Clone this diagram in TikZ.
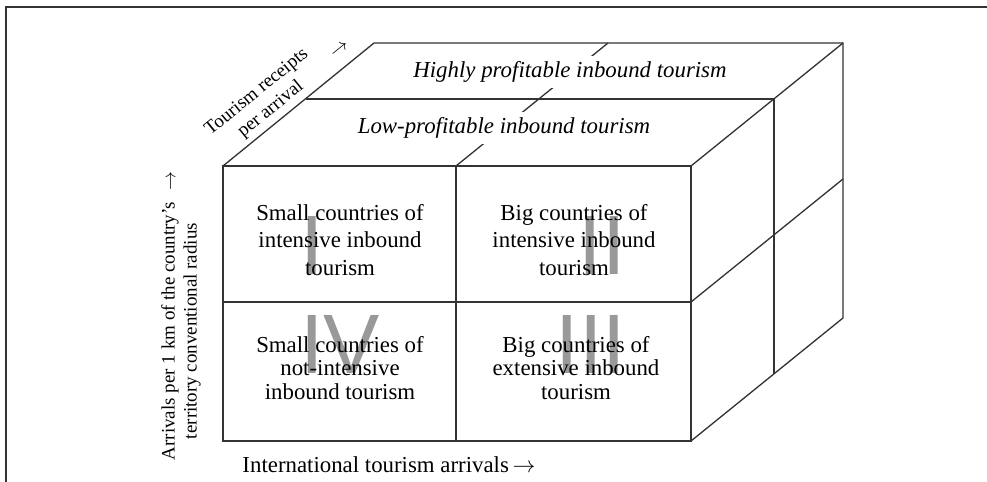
\RequirePackage{fix-cm}
\documentclass[tikz,border=0pt]{standalone}
\usepackage{fontspec}
\setmainfont{Liberation Serif}
\newfontfamily\numeralfont{Liberation Sans}
\begin{document}
\begin{tikzpicture}[x=0.02cm, y=-0.02cm, line width=0.75pt,
  cube/.style={draw=black!80},
  celltext/.style={align=center, inner sep=0pt, font=\fontsize{13}{15.6}\selectfont},
  lowcell/.style={celltext, font=\fontsize{13}{13.6}\selectfont},
  layer/.style={fill=white, inner sep=3pt, font=\fontsize{13}{15.6}\selectfont\itshape},
  numeral/.style={text=black!40, inner sep=0pt, font=\fontsize{48}{48}\selectfont\numeralfont},
  axislabel/.style={align=center, inner sep=0pt, font=\fontsize{10.8}{12.6}\selectfont}]
  % Picture units are pixels of the 987 x 482 figure, y downwards
  \useasboundingbox (0,0) rectangle (987,482);
  % Frame (top and left edges only)
  \draw[black!80] (6,482) -- (6,7) -- (987,7);
  % Front face corners
  \coordinate (ftl) at (223,166);
  \coordinate (ftm) at (456,166);
  \coordinate (ftr) at (691,166);
  \coordinate (fml) at (223,302);
  \coordinate (fmr) at (691,302);
  \coordinate (fbm) at (456,441);
  \coordinate (fbr) at (691,441);
  % Middle layer and back face corners
  \coordinate (mtl) at (306,99);
  \coordinate (mtr) at (774,99);
  \coordinate (mbr) at (774,374);
  \coordinate (btl) at (374,43);
  \coordinate (btm) at (608,43);
  \coordinate (btr) at (843,43);
  \coordinate (bmr) at (843,179);
  \coordinate (bbr) at (843,318);
  % Cube edges
  \draw[cube] (ftl) rectangle (fbr);
  \draw[cube] (ftm) -- (fbm);
  \draw[cube] (fml) -- (fmr);
  \draw[cube] (ftl) -- (btl) -- (btr) -- (bbr) -- (fbr);
  \draw[cube] (ftr) -- (btr);
  \draw[cube] (fmr) -- (bmr);
  \draw[cube] (mtl) -- (mtr) -- (mbr);
  \draw[cube] (ftm) -- (btm);
  % Quadrant numerals behind the cell texts
  \node[numeral] (numI) at (312,245) {I};
  \node[numeral] (numII) at (602,245) {II};
  \node[numeral] (numIII) at (591,344) {III};
  \node[numeral] (numIV) at (340,344) {IV};
  % Cell texts
  \node[celltext] (smallint) at (340,240)
    {Small countries of\\intensive inbound\\tourism};
  \node[celltext] (bigint) at (574,240)
    {Big countries of\\intensive inbound\\tourism};
  \node[lowcell] (bigext) at (576,368)
    {Big countries of\\extensive inbound\\tourism};
  \node[lowcell] (smallnot) at (340,368)
    {Small countries of\\not-intensive\\inbound tourism};
  % Layers on the top face (white boxes break the middle edge)
  \node[layer] (high) at (570,72) {Highly profitable inbound tourism};
  \node[layer] (low) at (504,128) {Low-profitable inbound tourism};
  % Axis labels
  \node[font=\fontsize{13}{15.6}\selectfont, inner sep=0pt] (arrivals) at (389,465)
    {International tourism arrivals\,$\rightarrow$};
  \node[axislabel, rotate=90] (density) at (181,331)
    {Arrivals per 1 km of the country's\\territory conventional radius};
  \node[axislabel, rotate=90] (densarrow) at (172,181) {$\rightarrow$};
  \node[axislabel, rotate=39] (receipts) at (264,101)
    {Tourism receipts\\per arrival};
  \node[axislabel, rotate=39] (recarrow) at (340,50) {$\rightarrow$};
\end{tikzpicture}
\end{document}
